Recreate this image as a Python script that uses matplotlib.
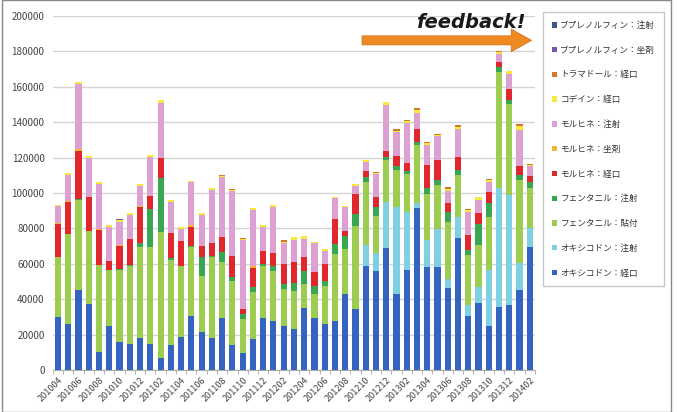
import matplotlib
matplotlib.use("Agg")
import matplotlib.pyplot as plt
import numpy as np
from matplotlib.patches import Rectangle, FancyArrow

plt.rcParams['font.family'] = ['Noto Sans CJK JP', 'DejaVu Sans']

# Months 2010-04 .. 2014-02
months = [f"{y}{m:02d}" for y in range(2010, 2015) for m in range(1, 13)]
months = [m for m in months if "201004" <= m <= "201402"]

oxy_oral = [30200, 25900, 45100, 37200, 10400, 24900, 15900, 14900, 18300, 14900,
            7000, 14200, 18900, 30600, 21700, 18300, 29100, 14200, 9800, 17400,
            29200, 27400, 24900, 23000, 34900, 29200, 25900, 27400, 43200, 34700,
            58500, 56000, 69000, 43000, 56400, 91600, 58300, 58300, 46400, 74700,
            30500, 38000, 24800, 35700, 36700, 45100, 69600]
oxy_inj = [0] * 30 + [12300, 10000, 26000, 49000, 32900, 2800, 15100, 21100, 4800, 11800,
                      6200, 9000, 31600, 67000, 62100, 15100, 10400]
fen_patch = [33400, 50900, 50900, 41100, 49000, 31700, 40700, 44000, 51000, 54400,
             70700, 47900, 40000, 39000, 31500, 45300, 32200, 36200, 18900, 26400,
             29700, 28600, 20800, 21700, 13600, 14000, 21700, 38100, 25100, 46800,
             35200, 21000, 23500, 21000, 21500, 33000, 26000, 25000, 32500, 23500,
             28200, 23500, 30000, 65800, 51700, 47000, 23000]
fen_inj = [0, 0, 500, 0, 0, 0, 600, 500, 2200, 21700,
           30800, 1100, 0, 500, 10400, 900, 5100, 2200, 2800, 3200,
           1000, 2900, 2800, 4700, 7500, 4400, 2800, 5600, 7600, 6600,
           3300, 5000, 2000, 2500, 1500, 1500, 3300, 2800, 5600, 2900,
           2800, 12000, 8000, 2800, 2200, 2800, 3500]
mor_oral = [18900, 18300, 27000, 19200, 19700, 5100, 13000, 14600, 20800, 7500,
            11300, 14000, 14100, 10500, 6600, 7000, 8900, 11900, 2800, 10900,
            7100, 7000, 11300, 11900, 8000, 7500, 9400, 14200, 2400, 11300,
            3400, 5500, 3500, 5500, 4500, 7000, 13000, 11300, 4800, 7500,
            8500, 6000, 6000, 2700, 6300, 5300, 3000]
mor_supp = [500, 600, 1500, 500, 500, 0, 500, 0, 600, 0,
            0, 0, 0, 1300, 0, 0, 0, 0, 0, 1000,
            0, 0, 0, 0, 0, 0, 0, 0, 0, 0,
            0, 0, 0, 0, 0, 0, 0, 0, 0, 0,
            0, 0, 0, 0, 0, 0, 0]
mor_inj = [9400, 14700, 36500, 21800, 25500, 18900, 12700, 13700, 11300, 22100,
           31000, 17900, 6600, 24100, 17500, 30200, 33600, 36800, 39100, 31500,
           13600, 26400, 11700, 12100, 10000, 16400, 7600, 11900, 13600, 4800,
           5000, 13000, 26000, 13500, 23000, 9500, 11500, 13500, 7000, 15500,
           13000, 7500, 6000, 4600, 8000, 20100, 5500]
codeine = [800, 700, 1500, 1300, 1300, 1500, 1300, 800, 900, 900,
           1500, 900, 1000, 1000, 800, 1100, 600, 500, 500, 1100,
           1300, 900, 1000, 1500, 1500, 1100, 900, 700, 800, 900,
           1000, 1000, 1500, 800, 800, 1500, 800, 700, 1200, 1300,
           1200, 1500, 800, 1000, 1700, 2400, 800]
tramadol = [0] * 16 + [500, 500, 600, 0, 0, 0, 900, 0, 0, 0, 0, 0, 0, 0,
                       0, 500, 0, 700, 700, 1200, 800, 500, 1000, 1000,
                       800, 0, 800, 600, 0, 1000, 700]
bup_supp = [0] * 6 + [800] + [0] * 40
bup_inj = [0] * 47

series = [
    ("オキシコドン：経口", oxy_oral, "#3464bf"),
    ("オキシコドン：注射", oxy_inj, "#7fd0e2"),
    ("フェンタニル：貼付", fen_patch, "#9ccc50"),
    ("フェンタニル：注射", fen_inj, "#38a652"),
    ("モルヒネ：経口", mor_oral, "#e0282c"),
    ("モルヒネ：坐剤", mor_supp, "#f3b530"),
    ("モルヒネ：注射", mor_inj, "#dca0d2"),
    ("コデイン：経口", codeine, "#f4ea3c"),
    ("トラマドール：経口", tramadol, "#d2772d"),
    ("ブプレノルフィン：坐剤", bup_supp, "#7a58a8"),
    ("ブプレノルフィン：注射", bup_inj, "#3b5a88"),
]

fig = plt.figure(figsize=(6.78, 4.12), dpi=100)
ax = fig.add_axes([0.078, 0.102, 0.711, 0.859])

x = np.arange(len(months))
bottom = np.zeros(len(months))
handles = []
for name, vals, color in series:
    v = np.array(vals, dtype=float)
    h = ax.bar(x, v, width=0.6, bottom=bottom, color=color, label=name, zorder=3)
    handles.append(h)
    bottom += v

ax.set_xlim(-0.5, len(months) - 0.5)
ax.set_ylim(0, 200000)
ax.set_yticks(np.arange(0, 200001, 20000))
ax.yaxis.set_major_formatter(matplotlib.ticker.FuncFormatter(lambda v, p: f"{int(v)}"))
ax.grid(axis='y', color='#d4d4d4', linewidth=1.0, zorder=0)
ax.set_axisbelow(True)

ax.set_xticks(x[::2])
ax.set_xticklabels(months[::2], rotation=45, ha='right', va='top',
                   rotation_mode='anchor', fontsize=6.5, color='#444444')
ax.set_xticks(np.arange(-0.5, len(months), 1), minor=True)
ax.tick_params(axis='x', which='major', length=0, pad=4)
ax.tick_params(axis='x', which='minor', length=3, color='#aaaaaa')
ax.tick_params(axis='y', length=0, labelsize=7, labelcolor='#444444', pad=6)

for s in ['top', 'right', 'left']:
    ax.spines[s].set_visible(False)
ax.spines['bottom'].set_color('#aaaaaa')

leg = fig.legend(handles[::-1], [s[0] for s in series][::-1],
                 loc='upper left', bbox_to_anchor=(0.801, 0.97),
                 fontsize=6.2, frameon=True, fancybox=False, edgecolor='#bbbbbb',
                 handlelength=0.6, handleheight=0.6, handletextpad=0.4,
                 labelspacing=1.83, borderpad=1.0, borderaxespad=0)
for t in leg.get_texts():
    t.set_color('#333333')

# "feedback!" callout with an orange arrow
fig.text(0.695, 0.945, "feedback!", fontsize=14, fontweight='bold', style='italic',
         family='DejaVu Sans', color='#1a1a1a', ha='center', va='center')
arrow = FancyArrow(0.534, 0.902, 0.22, 0.0, width=0.022, head_width=0.055,
                   head_length=0.03, length_includes_head=False,
                   transform=fig.transFigure, color='#ef8a22', ec='#d06a10', lw=0.5)
fig.patches.append(arrow)

# outer frame
fig.patches.append(Rectangle((0.003, 0.0), 0.986, 0.999, transform=fig.transFigure,
                             fill=False, edgecolor='#888888', linewidth=1.0))

fig.savefig("out.png", dpi=100)
